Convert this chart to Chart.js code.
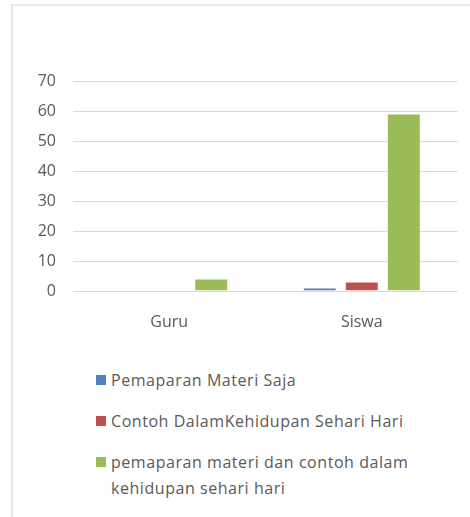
<!DOCTYPE html>
<html>
<head>
<meta charset="utf-8">
<script src="https://cdn.jsdelivr.net/npm/chart.js@4.4.0/dist/chart.umd.min.js"></script>
<style>
    html, body { margin: 0; background: #fff; width: 470px; height: 517px; overflow: hidden; }
    body { position: relative; }
    .frame { position: absolute; left: 11px; top: 4px; right: 0; bottom: 0; border-left: 2px solid #e6e6e6; border-top: 2px solid #ebebeb; }
    .chart-box { position: absolute; left: 0; top: 0; width: 470px; height: 345px; }
    #legend { position: absolute; left: 96px; top: 367px; font-family: "Open Sans", sans-serif; font-size: 16px; letter-spacing: 0.55px; color: #595959; }
    #legend .item { display: flex; align-items: flex-start; margin-bottom: 15px; width: 340px; line-height: 26px; }
    #legend .box { width: 10px; height: 10px; margin-top: 8px; margin-right: 5px; flex: none; }
</style>
</head>
<body>
<div class="frame"></div>
<div class="chart-box"><canvas id="myChart"></canvas></div>
<div id="legend"></div>
<script>
var categories = ["Guru", "Siswa"];
var seriesNames = [
    "Pemaparan Materi Saja",
    "Contoh DalamKehidupan Sehari Hari",
    "pemaparan materi dan contoh dalam kehidupan sehari hari"
];
var materiSaja = [0, 1];
var contohSaja = [0, 3];
var materiDanContoh = [4, 59];
var seriesColors = ["#4F81BD", "#C0504D", "#9BBB59"];

var makeDataset = (idx, values) => {
    return {
        label: seriesNames[idx],
        data: values,
        backgroundColor: seriesColors[idx],
        borderColor: "#ffffff",
        borderWidth: 0.6,
        categoryPercentage: 0.655,
        barPercentage: 0.79
    };
}

var fillLegend = (chart) => {
    const legend = document.getElementById("legend");
    legend.innerHTML = "";
    chart.data.datasets.forEach((ds) => {
        let item = document.createElement("div");
        item.className = "item";
        let box = document.createElement("span");
        box.className = "box";
        box.style.background = ds.backgroundColor;
        let text = document.createElement("span");
        text.textContent = ds.label;
        item.appendChild(box);
        item.appendChild(text);
        legend.appendChild(item);
    });
}

window.onload = () => {
    const ctx = document.getElementById("myChart").getContext("2d");
    const font = { family: "'Open Sans', sans-serif", size: 16 };
    const myChart = new Chart(ctx, {
        type: "bar",
        data: {
            labels: categories,
            datasets: [
                makeDataset(0, materiSaja),
                makeDataset(1, contohSaja),
                makeDataset(2, materiDanContoh)
            ]
        },
        options: {
            responsive: true,
            maintainAspectRatio: false,
            animation: false,
            layout: { padding: { top: 81, right: 12, left: 0, bottom: 0 } },
            plugins: {
                legend: { display: false },
                tooltip: { enabled: false }
            },
            scales: {
                x: {
                    grid: { display: false },
                    border: { display: false },
                    ticks: { color: "#595959", font: font, padding: 14 },
                    afterFit: (scale) => { scale.height = 54; }
                },
                y: {
                    min: 0,
                    max: 70,
                    ticks: { stepSize: 10, color: "#595959", font: font, padding: 17 },
                    grid: { color: "#d9d9d9", drawTicks: false },
                    border: { display: false },
                    afterFit: (scale) => { scale.width = 73; }
                }
            }
        }
    });
    fillLegend(myChart);
}
</script>
</body>
</html>
